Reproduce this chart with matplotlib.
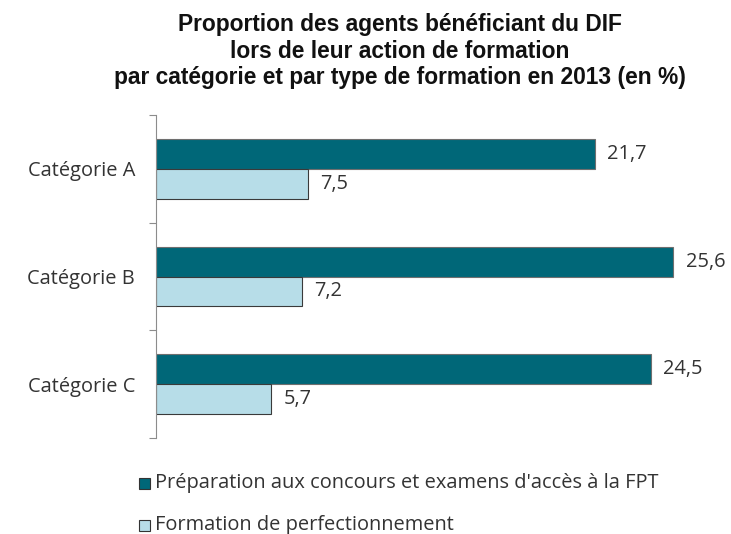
import matplotlib
matplotlib.use("Agg")
import matplotlib.pyplot as plt
from matplotlib.patches import Rectangle
import numpy as np

categories = ["Catégorie A", "Catégorie B", "Catégorie C"]
prep = [21.7, 25.6, 24.5]
perf = [7.5, 7.2, 5.7]
series_names = ["Préparation aux concours et examens d'accès à la FPT",
                "Formation de perfectionnement"]
title = ("Proportion des agents bénéficiant du DIF\n"
         "lors de leur action de formation\n"
         "par catégorie et par type de formation en 2013 (en %)")

dark = "#006778"
light = "#B7DDE8"

fig = plt.figure(figsize=(7.31, 5.34), dpi=100)
W, H = 731, 534
ax = fig.add_axes([156 / W, (H - 438) / H, 566 / W, 323 / H])

y = np.arange(len(categories))
h = 0.278
ax.barh(y - h / 2, prep, height=h, color=dark, edgecolor="#6f6f6f", linewidth=0.8)
ax.barh(y + h / 2, perf, height=h, color=light, edgecolor="#3a3a3a", linewidth=0.8)

ax.set_xlim(0, 28)
ax.set_ylim(2.5, -0.5)

lfont = "Open Sans"
fs = 14.4
txtc = "#333333"
for yi, v in zip(y, prep):
    ax.text(v + 0.6, yi - h / 2, f"{v:.1f}".replace(".", ","), va="center", ha="left",
            fontsize=fs, family=lfont, color=txtc)
for yi, v in zip(y, perf):
    ax.text(v + 0.6, yi + h / 2, f"{v:.1f}".replace(".", ","), va="center", ha="left",
            fontsize=fs, family=lfont, color=txtc)

ax.set_yticks([-0.5, 0.5, 1.5, 2.5])
ax.set_yticklabels([])
ax.set_yticks(y, minor=True)
ax.set_yticklabels(categories, minor=True, fontsize=fs, family=lfont, color=txtc)
ax.tick_params(axis="y", which="major", length=5, width=0.8, color="#8c8c8c", direction="out")
ax.tick_params(axis="y", which="minor", length=0, pad=15)
ax.set_xticks([])
for s in ["top", "right", "bottom"]:
    ax.spines[s].set_visible(False)
ax.spines["left"].set_color("#8c8c8c")
ax.spines["left"].set_linewidth(0.8)

fig.text(400 / W, 1 - 13 / H, title, ha="center", va="top", fontsize=16.4,
         fontweight="bold", family="Liberation Sans", linespacing=1.2, color="#111111")

# legend
for i, (name, col) in enumerate([(series_names[0], dark), (series_names[1], light)]):
    yc = 483 + i * 42
    fig.patches.append(Rectangle((139 / W, 1 - (yc + 6) / H), 11 / W, 11 / H,
                                 transform=fig.transFigure, facecolor=col,
                                 edgecolor="#333333", linewidth=0.8))
    fig.text(155 / W, 1 - yc / H, name, ha="left", va="center", fontsize=fs,
             family=lfont, color=txtc)

fig.savefig("out.png", dpi=100)
